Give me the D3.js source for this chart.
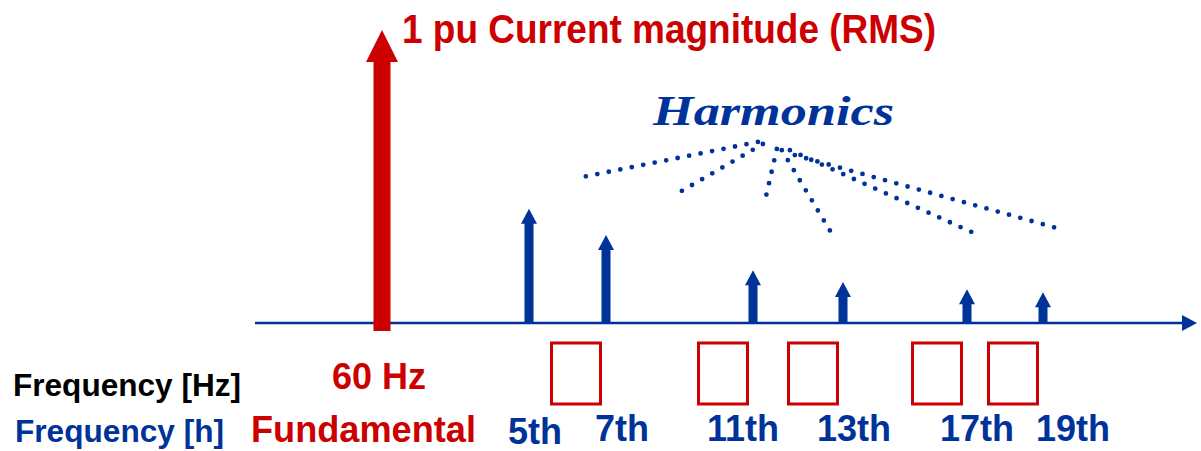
<!DOCTYPE html>
<html>
<head>
<meta charset="utf-8">
<script src="https://cdn.jsdelivr.net/npm/d3@7"></script>
<style>
    html, body { margin: 0; padding: 0; background: #ffffff; }
    #chart { width: 1201px; height: 451px; }
    text { font-family: "Liberation Sans", Arial, sans-serif; font-weight: bold; }
</style>
</head>
<body>
<div id="chart"></div>
<script>
'use strict';

// ============================================================
//  Harmonic spectrum sketch — fundamental (1 pu) plus the
//  characteristic harmonics 5, 7, 11, 13, 17, 19.
//  Empty red boxes are placeholders for the frequencies in Hz.
// ============================================================

// ── Data ─────────────────────────────────────────────────────
const FUNDAMENTAL_ORDER = 1;
const FUNDAMENTAL_PU    = 1;

const HARMONIC_ORDERS = [5, 7, 11, 13, 17, 19];
const HARMONIC_PU     = [0.39, 0.30, 0.18, 0.14, 0.115, 0.105];
const HARMONIC_LABELS = ['5th', '7th', '11th', '13th', '17th', '19th'];

// harmonics that get an empty "fill in the Hz" box
const BOX_ORDERS = [7, 11, 13, 17, 19];

// dotted leaders from the "Harmonics" label, in (order, pu) units
const LEADER_FROM = [[11.11, 0.618], [11.22, 0.611], [11.53, 0.594], [11.64, 0.59], [11.82, 0.59], [11.93, 0.573]];
const LEADER_TO   = [[6.38, 0.498], [9.01, 0.447], [11.29, 0.433], [12.82, 0.287], [17.18, 0.307], [19.45, 0.321]];

const TITLE_TEXT      = '1 pu Current magnitude (RMS)';
const HARMONICS_TEXT  = 'Harmonics';
const FUND_HZ_TEXT    = '60 Hz';
const FUND_NAME_TEXT  = 'Fundamental';
const ROW_HZ_TEXT     = 'Frequency [Hz]';
const ROW_H_TEXT      = 'Frequency [h]';

// ── Styles ───────────────────────────────────────────────────
const BLUE = '#003399';
const RED  = '#cc0000';

const W = 1201;
const H = 451;

const svg = d3.select('#chart')
    .append('svg')
    .attr('width', W)
    .attr('height', H);

// ── Scales ───────────────────────────────────────────────────
// the sketch is not to scale, so the order axis is piecewise
const ORDER_STOPS = [FUNDAMENTAL_ORDER, ...HARMONIC_ORDERS];
const x = d3.scaleLinear()
    .domain(ORDER_STOPS)
    .range([382, 529, 606, 753, 843, 967, 1043]);

// label row sits a little off the arrows
const xLabel = d3.scaleLinear()
    .domain(HARMONIC_ORDERS)
    .range([535, 622, 743, 854, 977, 1073]);

const y = d3.scaleLinear().domain([0, 1]).range([323, 30]);

// Vertical arrow: shaft + triangular head, tip at yTip
function arrowPath(cx, yTip, yBottom, shaftW, headW, headL) {
    const p = d3.path();
    p.moveTo(cx, yTip);
    p.lineTo(cx + headW / 2, yTip + headL);
    p.lineTo(cx + shaftW / 2, yTip + headL);
    p.lineTo(cx + shaftW / 2, yBottom);
    p.lineTo(cx - shaftW / 2, yBottom);
    p.lineTo(cx - shaftW / 2, yTip + headL);
    p.lineTo(cx - headW / 2, yTip + headL);
    p.closePath();
    return p.toString();
}

// ── Frequency axis ───────────────────────────────────────────
const axisX0 = 255;
const axisX1 = 1184;
svg.append('line')
    .attr('x1', axisX0)
    .attr('x2', axisX1)
    .attr('y1', y(0))
    .attr('y2', y(0))
    .attr('stroke', BLUE)
    .attr('stroke-width', 2.6);

svg.append('path')
    .attr('d', `M${axisX1 - 2},${y(0) - 8} L1197,${y(0)} L${axisX1 - 2},${y(0) + 8} Z`)
    .attr('fill', BLUE);

// ── Fundamental arrow ────────────────────────────────────────
svg.append('path')
    .attr('d', arrowPath(x(FUNDAMENTAL_ORDER), y(FUNDAMENTAL_PU), y(0) + 8, 17, 32, 32))
    .attr('fill', RED);

// ── Harmonic arrows ──────────────────────────────────────────
const harmonics = HARMONIC_ORDERS.map((h, i) => ({
    h, pu: HARMONIC_PU[i], label: HARMONIC_LABELS[i]
}));

svg.selectAll('path.harmonic')
    .data(harmonics)
    .join('path')
    .attr('class', 'harmonic')
    .attr('d', d => arrowPath(x(d.h), y(d.pu), y(0) + 1, 9, 16, 15))
    .attr('fill', BLUE);

// ── Dotted leaders ───────────────────────────────────────────
svg.selectAll('line.leader')
    .data(LEADER_FROM.map((f, i) => ({ f, t: LEADER_TO[i] })))
    .join('line')
    .attr('class', 'leader')
    .attr('x1', d => x(d.f[0]))
    .attr('y1', d => y(d.f[1]))
    .attr('x2', d => x(d.t[0]))
    .attr('y2', d => y(d.t[1]))
    .attr('stroke', BLUE)
    .attr('stroke-width', 4.8)
    .attr('stroke-linecap', 'round')
    .attr('stroke-dasharray', '0 11.7');

// ── Placeholder boxes ────────────────────────────────────────
const boxW = 49;
const boxH = 61;
svg.selectAll('rect.hz-box')
    .data(BOX_ORDERS)
    .join('rect')
    .attr('class', 'hz-box')
    .attr('x', d => x(d) - 30 - boxW / 2)
    .attr('y', 343)
    .attr('width', boxW)
    .attr('height', boxH)
    .attr('fill', 'none')
    .attr('stroke', RED)
    .attr('stroke-width', 3);

// ── Harmonic order labels ────────────────────────────────────
svg.selectAll('text.order')
    .data(harmonics)
    .join('text')
    .attr('class', 'order')
    .attr('x', d => xLabel(d.h))
    .attr('y', d => d.h === 5 ? 444 : 441)
    .attr('text-anchor', 'middle')
    .attr('font-size', 36)
    .attr('fill', BLUE)
    .text(d => d.label);

// ── Titles and row labels ────────────────────────────────────
svg.append('text')
    .attr('x', 402)
    .attr('y', 43)
    .attr('font-size', 40)
    .attr('textLength', 534)
    .attr('lengthAdjust', 'spacingAndGlyphs')
    .attr('fill', RED)
    .text(TITLE_TEXT);

svg.append('text')
    .attr('x', 653)
    .attr('y', 125)
    .attr('font-size', 42)
    .attr('textLength', 241)
    .attr('lengthAdjust', 'spacingAndGlyphs')
    .style('font-family', '"Liberation Serif", "Times New Roman", serif')
    .style('font-style', 'italic')
    .attr('fill', BLUE)
    .text(HARMONICS_TEXT);

svg.append('text')
    .attr('x', x(FUNDAMENTAL_ORDER) - 3)
    .attr('y', 389)
    .attr('text-anchor', 'middle')
    .attr('font-size', 36)
    .attr('fill', RED)
    .text(FUND_HZ_TEXT);

svg.append('text')
    .attr('x', 251)
    .attr('y', 442)
    .attr('font-size', 36)
    .attr('textLength', 225)
    .attr('lengthAdjust', 'spacingAndGlyphs')
    .attr('fill', RED)
    .text(FUND_NAME_TEXT);

svg.append('text')
    .attr('x', 13)
    .attr('y', 396)
    .attr('font-size', 31)
    .attr('textLength', 228)
    .attr('lengthAdjust', 'spacingAndGlyphs')
    .attr('fill', '#000000')
    .text(ROW_HZ_TEXT);

svg.append('text')
    .attr('x', 15)
    .attr('y', 442)
    .attr('font-size', 31)
    .attr('textLength', 209)
    .attr('lengthAdjust', 'spacingAndGlyphs')
    .attr('fill', BLUE)
    .text(ROW_H_TEXT);
</script>
</body>
</html>
